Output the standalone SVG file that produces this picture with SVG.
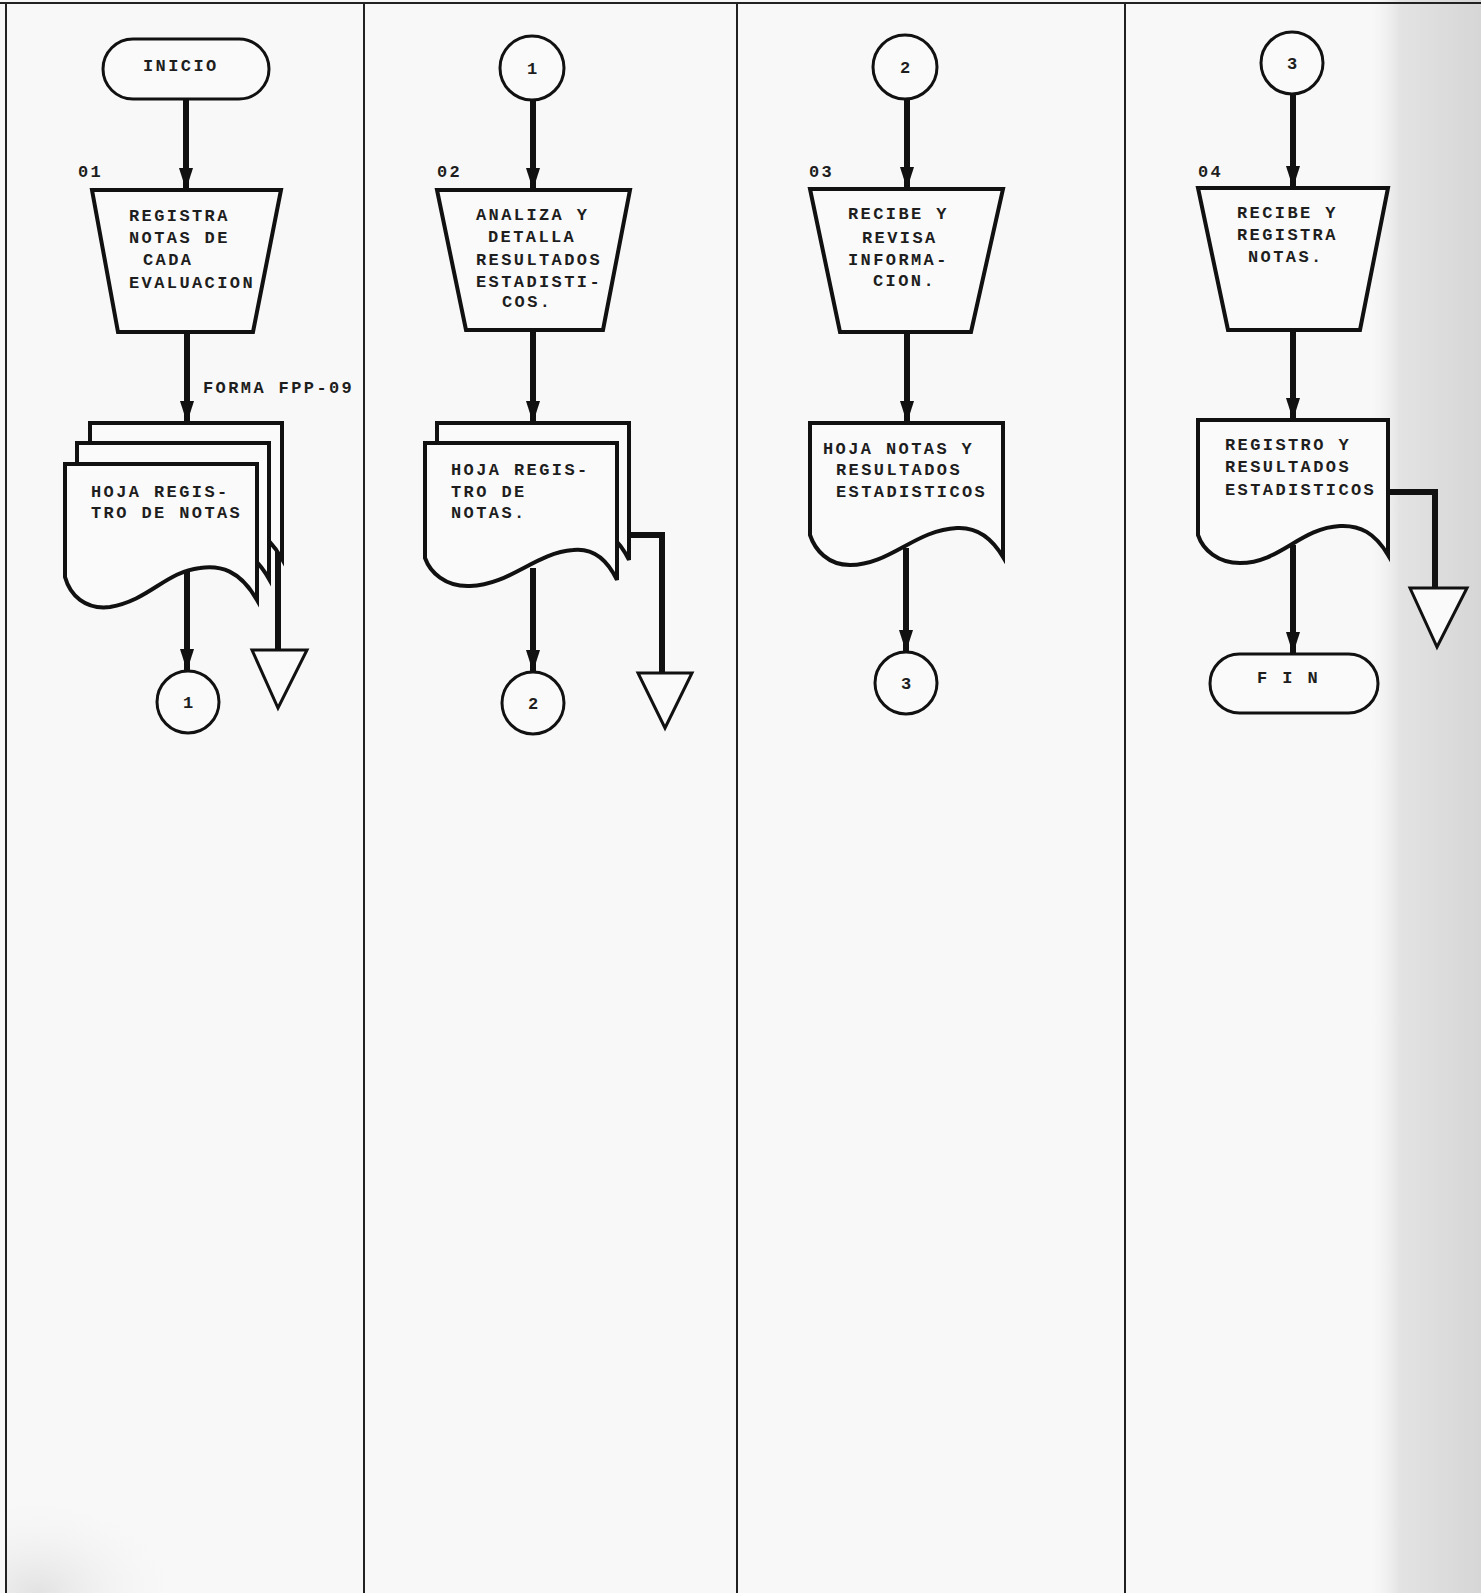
<svg xmlns="http://www.w3.org/2000/svg" width="1481" height="1593" viewBox="0 0 1481 1593">
<style>
.t{font-family:"Liberation Mono","DejaVu Sans Mono",monospace;font-size:17px;font-weight:bold;letter-spacing:2.4px;fill:#1e1e1e}
.c{text-anchor:middle;letter-spacing:0}
.sh{fill:#fafafa;stroke:#111;stroke-width:4;stroke-linejoin:miter}
.th{fill:#fafafa;stroke:#111;stroke-width:3}
.ln{stroke:#111;stroke-width:6;fill:none}
.col{stroke:#222;stroke-width:2}
</style>
<defs>
<marker id="ah" markerUnits="userSpaceOnUse" viewBox="0 0 22 14" refX="22" refY="7" markerWidth="22" markerHeight="14" orient="auto">
<path d="M0,0 L22,7 L0,14 z" fill="#111"/>
</marker>
<linearGradient id="shade" x1="0" y1="0" x2="1" y2="0">
<stop offset="0" stop-color="#f8f8f8" stop-opacity="0"/>
<stop offset="0.3" stop-color="#e3e3e3"/>
<stop offset="1" stop-color="#d6d6d6"/>
</linearGradient>
<radialGradient id="smudge" cx="0.2" cy="1" r="0.9">
<stop offset="0" stop-color="#e2e2e2"/>
<stop offset="1" stop-color="#f8f8f8" stop-opacity="0"/>
</radialGradient>
</defs>
<rect width="1481" height="1593" fill="#f8f8f8"/>
<rect x="1365" y="0" width="116" height="1593" fill="url(#shade)"/>
<rect x="6" y="1480" width="160" height="113" fill="url(#smudge)"/>

<g id="grid">
<line class="col" x1="0" y1="3" x2="1481" y2="3"/>
<line class="col" x1="6" y1="3" x2="6" y2="1593"/>
<line class="col" x1="364" y1="3" x2="364" y2="1593"/>
<line class="col" x1="737" y1="3" x2="737" y2="1593"/>
<line class="col" x1="1125" y1="3" x2="1125" y2="1593"/>
</g>

<g id="connectors">
<line class="ln" x1="186" y1="99" x2="186" y2="190" marker-end="url(#ah)"/>
<line class="ln" x1="187" y1="332" x2="187" y2="423" marker-end="url(#ah)"/>
<line class="ln" x1="187" y1="567" x2="187" y2="671" marker-end="url(#ah)"/>
<line class="ln" x1="278" y1="540" x2="278" y2="652"/>
<line class="ln" x1="533" y1="100" x2="533" y2="190" marker-end="url(#ah)"/>
<line class="ln" x1="533" y1="330" x2="533" y2="423" marker-end="url(#ah)"/>
<line class="ln" x1="533" y1="568" x2="533" y2="672" marker-end="url(#ah)"/>
<polyline class="ln" points="627,535 662,535 662,675"/>
<line class="ln" x1="907" y1="99" x2="907" y2="189" marker-end="url(#ah)"/>
<line class="ln" x1="907" y1="332" x2="907" y2="423" marker-end="url(#ah)"/>
<line class="ln" x1="906" y1="548" x2="906" y2="652" marker-end="url(#ah)"/>
<line class="ln" x1="1293" y1="94" x2="1293" y2="188" marker-end="url(#ah)"/>
<line class="ln" x1="1293" y1="330" x2="1293" y2="420" marker-end="url(#ah)"/>
<line class="ln" x1="1293" y1="545" x2="1293" y2="654" marker-end="url(#ah)"/>
<polyline class="ln" points="1386,492 1435,492 1435,590"/>
</g>

<g id="inicio">
<rect class="th" x="103" y="39" width="166" height="60" rx="30"/>
<text class="t" x="143" y="71">INICIO</text>
</g>

<g id="op01">
<text class="t" x="78" y="177">01</text>
<polygon class="sh" points="92,190 281,190 253,332 118,332"/>
<text class="t" x="129" y="221">REGISTRA</text>
<text class="t" x="129" y="243">NOTAS DE</text>
<text class="t" x="143" y="265">CADA</text>
<text class="t" x="129" y="288">EVALUACION</text>
</g>

<g id="label-forma">
<text class="t" x="203" y="393">FORMA FPP-09</text>
</g>

<g id="doc01">
<path class="sh" d="M90,423 H282 V559 C265,529 245,524 225,527 C190,531 175,559 135,566 C110,569 95,554 90,536 Z"/>
<path class="sh" d="M77,443 H269 V579 C252,549 232,544 212,547 C177,551 162,579 122,586 C97,589 82,574 77,556 Z"/>
<path class="sh" d="M65,464 H257 V600 C240,570 220,565 200,568 C165,572 150,600 110,607 C85,610 70,595 65,577 Z"/>
<text class="t" x="91" y="497">HOJA REGIS-</text>
<text class="t" x="91" y="518">TRO DE NOTAS</text>
</g>

<g id="conn1-out">
<circle class="th" cx="188" cy="702" r="31"/>
<text class="t c" x="188" y="708">1</text>
</g>
<g id="archive1">
<polygon class="th" points="252,650 307,650 278,708"/>
</g>

<g id="conn1-in">
<circle class="th" cx="532" cy="68" r="32"/>
<text class="t c" x="532" y="74">1</text>
</g>

<g id="op02">
<text class="t" x="437" y="177">02</text>
<polygon class="sh" points="437,190 630,190 603,330 466,330"/>
<text class="t" x="476" y="220">ANALIZA Y</text>
<text class="t" x="488" y="242">DETALLA</text>
<text class="t" x="476" y="265">RESULTADOS</text>
<text class="t" x="476" y="287">ESTADISTI-</text>
<text class="t" x="502" y="307">COS.</text>
</g>

<g id="doc02">
<path class="sh" d="M437,423 H629 V560 C617,535 602,528 585,530 C547,533 522,565 482,566 C457,567 442,552 437,538 Z"/>
<path class="sh" d="M425,443 H617 V580 C605,555 590,548 573,550 C535,553 510,585 470,586 C445,587 430,572 425,558 Z"/>
<text class="t" x="451" y="475">HOJA REGIS-</text>
<text class="t" x="451" y="497">TRO DE</text>
<text class="t" x="451" y="518">NOTAS.</text>
</g>

<g id="conn2-out">
<circle class="th" cx="533" cy="703" r="31"/>
<text class="t c" x="533" y="709">2</text>
</g>
<g id="archive2">
<polygon class="th" points="638,673 692,673 665,728"/>
</g>

<g id="conn2-in">
<circle class="th" cx="905" cy="67" r="32"/>
<text class="t c" x="905" y="73">2</text>
</g>

<g id="op03">
<text class="t" x="809" y="177">03</text>
<polygon class="sh" points="810,189 1003,189 971,332 840,332"/>
<text class="t" x="848" y="219">RECIBE Y</text>
<text class="t" x="862" y="243">REVISA</text>
<text class="t" x="848" y="265">INFORMA-</text>
<text class="t" x="873" y="286">CION.</text>
</g>

<g id="doc03">
<path class="sh" d="M810,423 H1003 V557 C990,535 975,527 957,528 C915,530 890,565 850,565 C828,565 815,550 810,535 Z"/>
<text class="t" x="823" y="454">HOJA NOTAS Y</text>
<text class="t" x="836" y="475">RESULTADOS</text>
<text class="t" x="836" y="497">ESTADISTICOS</text>
</g>

<g id="conn3-out">
<circle class="th" cx="906" cy="683" r="31"/>
<text class="t c" x="906" y="689">3</text>
</g>

<g id="conn3-in">
<circle class="th" cx="1292" cy="63" r="31"/>
<text class="t c" x="1292" y="69">3</text>
</g>

<g id="op04">
<text class="t" x="1198" y="177">04</text>
<polygon class="sh" points="1198,188 1388,188 1360,330 1228,330"/>
<text class="t" x="1237" y="218">RECIBE Y</text>
<text class="t" x="1237" y="240">REGISTRA</text>
<text class="t" x="1248" y="262">NOTAS.</text>
</g>

<g id="doc04">
<path class="sh" d="M1198,420 H1388 V555 C1375,533 1360,525 1340,526 C1300,528 1280,563 1240,563 C1218,563 1203,550 1198,535 Z"/>
<text class="t" x="1225" y="450">REGISTRO Y</text>
<text class="t" x="1225" y="472">RESULTADOS</text>
<text class="t" x="1225" y="495">ESTADISTICOS</text>
</g>

<g id="archive4">
<polygon class="th" points="1410,588 1467,588 1437,647"/>
</g>

<g id="fin">
<rect class="th" x="1210" y="654" width="168" height="59" rx="29.5"/>
<text class="t" x="1257" y="683">F I N</text>
</g>
</svg>
